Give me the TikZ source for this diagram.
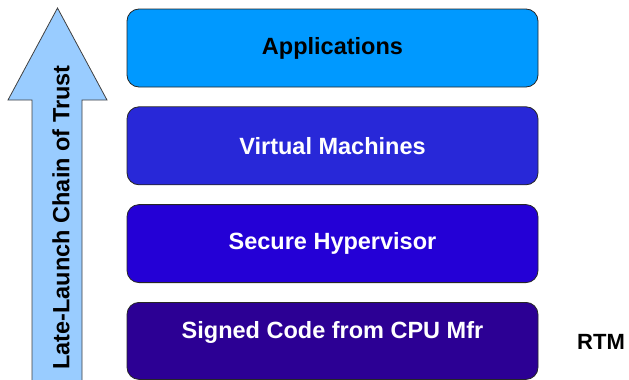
\documentclass[tikz,border=0pt]{standalone}
\usepackage{fontspec}
\setmainfont{Liberation Sans}
\usetikzlibrary{positioning}

\definecolor{appcol}{RGB}{0,153,255}
\definecolor{vmcol}{RGB}{40,40,216}
\definecolor{hypcol}{RGB}{36,0,214}
\definecolor{signcol}{RGB}{44,0,148}
\definecolor{trustcol}{RGB}{153,204,255}

\begin{document}
\begin{tikzpicture}[x=1pt, y=-1pt,
    	 every node/.style={font=\bfseries\fontsize{23.5}{28}\selectfont}]

    	 % style of the layers
    	 \tikzstyle{layer}=[draw=black!85, line width=0.8pt, rounded corners=12pt,
    	   minimum width=411pt, minimum height=78pt, inner sep=0pt, text=white]
    	 \tikzstyle{trust}=[fill=trustcol, draw=black!75, line width=0.8pt]

    	 \useasboundingbox (0,0) rectangle (629,380);

			% chain of trust arrow
			\draw [trust] (32,382) -- (32,100) -- (8,100) -- (57.5,8) -- (107,100) -- (82,100) -- (82,382);
			\node (chain) at (61,217.5) [rotate=90] {Late-Launch Chain of Trust};

			% layers
			\node (app) at (332.5,48) [layer, fill=appcol, text=black] {Applications};
			\node (vm) [layer, fill=vmcol, below=19pt of app] {Virtual Machines};
			\node (hyp) [layer, fill=hypcol, below=19pt of vm] {Secure Hypervisor};
			\node (sign) [layer, fill=signcol, below=19pt of hyp, minimum height=77pt,
			  text depth=22pt] {Signed Code from CPU Mfr};

			\node (rtm) at (601,342) [font=\bfseries\fontsize{22}{26}\selectfont] {RTM};

		\end{tikzpicture}
\end{document}
